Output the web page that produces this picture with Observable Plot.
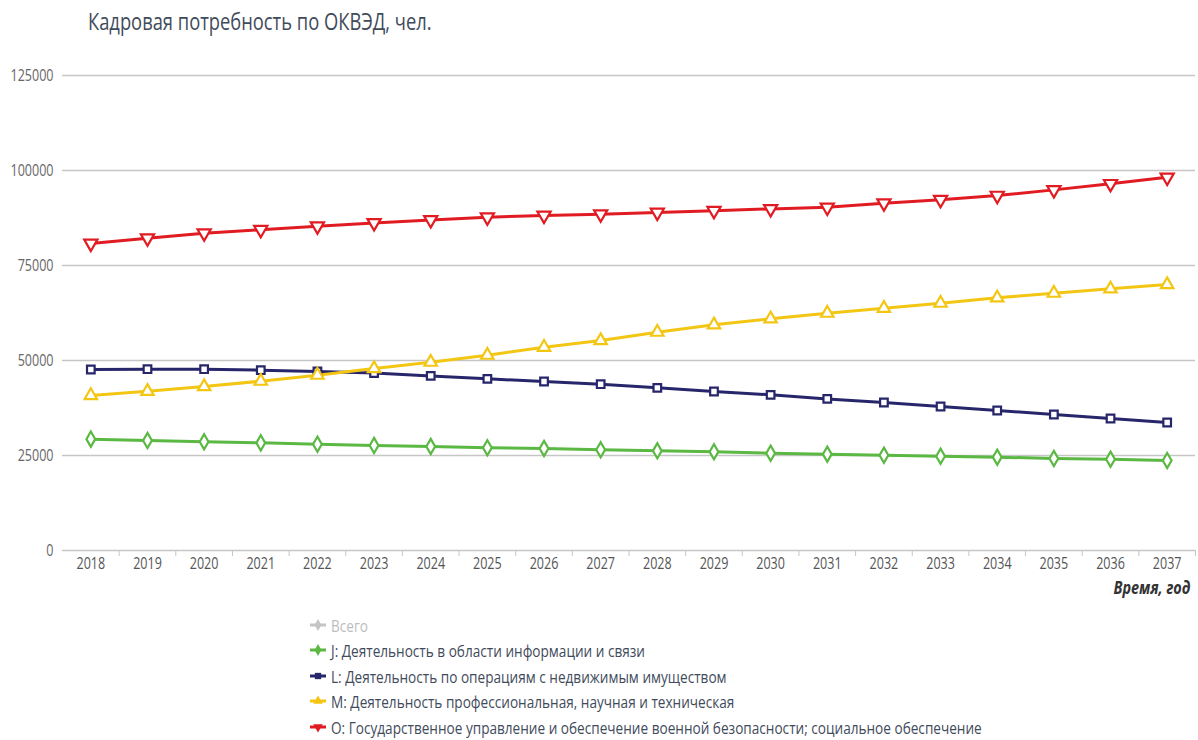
<!DOCTYPE html>
<html><head><meta charset="utf-8">
<script src="https://cdn.jsdelivr.net/npm/d3@7"></script>
<script src="https://cdn.jsdelivr.net/npm/@observablehq/plot@0.6"></script>
<style>
body{margin:0;background:#fff;font-family:"Open Sans",sans-serif;}
#wrap{position:relative;width:1198px;}
#title{height:60px;position:relative}
#title span{position:absolute;left:88px;top:5px;font-size:23.5px;color:#3f4b5b;transform:scaleX(0.78);transform-origin:0 0;white-space:nowrap}
#legend{position:relative;height:130px}
.item{position:absolute;left:309px;height:24px;white-space:nowrap;display:flex;align-items:center;}
.item svg{flex:none}
.item span{font-size:17px;color:#3f4b5b;display:inline-block;transform:scaleX(0.8);transform-origin:0 50%;margin-left:4px}
</style></head><body>
<div id="wrap">
<div id="title"><span>Кадровая потребность по ОКВЭД, чел.</span></div>
<div id="chart"></div>
<div id="legend"></div>
</div>
<script>
const years = [2018,2019,2020,2021,2022,2023,2024,2025,2026,2027,2028,2029,2030,2031,2032,2033,2034,2035,2036,2037];
const seriesJ = [29300,28950,28600,28330,27980,27630,27370,27020,26840,26500,26230,25970,25610,25350,25080,24820,24560,24210,24030,23680];
const seriesL = [47630,47720,47720,47450,47100,46700,45950,45170,44470,43770,42800,41840,40960,39900,38950,37900,36840,35790,34740,33680];
const seriesM = [40800,41900,43150,44560,46140,47900,49560,51400,53500,55260,57450,59400,60970,62450,63760,65080,66490,67720,68860,70000];
const seriesO = [80800,82200,83500,84400,85350,86200,87000,87700,88150,88500,88950,89400,89900,90300,91400,92300,93400,94900,96500,98200];
const yTicks = [0,25000,50000,75000,100000,125000];
const xLabel = "Время, год";
const legendNames = ["Всего","J: Деятельность в области информации и связи","L: Деятельность по операциям с недвижимым имуществом","M: Деятельность профессиональная, научная и техническая","O: Государственное управление и обеспечение военной безопасности; социальное обеспечение"];

const series = [
  {key:"J", values:seriesJ, color:"#5ab843", symbol:"diamond", r:4.6, rotate:0},
  {key:"L", values:seriesL, color:"#27266b", symbol:"square", r:4.3, rotate:0},
  {key:"M", values:seriesM, color:"#f3c614", symbol:"triangle", r:4.6, rotate:0},
  {key:"O", values:seriesO, color:"#e11b22", symbol:"triangle", r:4.9, rotate:180}
];
const sep = years.map(y => y + 0.5);

const marks = [
  Plot.ruleY(yTicks, {stroke:"#c6c6c6", strokeWidth:1.3}),
  Plot.axisY(yTicks, {tickSize:0, tickPadding:9, tickFormat:d3.format("d"), fill:"#666", label:null, fontSize:16.5, className:"sq"}),
  Plot.axisX(years, {tickSize:0, tickPadding:7, tickFormat:d3.format("d"), fill:"#555", label:null, fontSize:16.5, className:"sq"}),
  Plot.axisX(sep, {tickSize:6, tickFormat:() => "", stroke:"#c6c6c6", label:null}),
  Plot.text([xLabel], {frameAnchor:"bottom-right", dy:43, dx:-5, text:d => d, textAnchor:"end", fontWeight:"bold", fontStyle:"italic", fill:"#333", fontSize:17, className:"sqb"})
];
for (const s of series) {
  const data = years.map((y, i) => ({year:y, value:s.values[i]}));
  marks.push(Plot.line(data, {x:"year", y:"value", stroke:s.color, strokeWidth:3}));
}
for (const s of series) {
  const data = years.map((y, i) => ({year:y, value:s.values[i]}));
  marks.push(Plot.dot(data, {x:"year", y:"value", symbol:s.symbol, r:s.r, rotate:s.rotate, fill:"white", stroke:s.color, strokeWidth:2.2}));
}

const chart = Plot.plot({
  width:1198, height:550, marginTop:15, marginBottom:60, marginLeft:62, marginRight:3,
  style:{fontFamily:"Open Sans", fontSize:"16px", background:"white", overflow:"visible"},
  x:{domain:[2017.5,2037.5]},
  y:{domain:[0,125000]},
  marks
});
document.getElementById("chart").appendChild(chart);
// horizontally condense axis text, like the reference
chart.querySelectorAll(".sq text").forEach(t => {
  if (!t.textContent) return;
  const w = t.getComputedTextLength();
  if (w > 0) { t.setAttribute("textLength", (w * 0.76).toFixed(2)); t.setAttribute("lengthAdjust", "spacingAndGlyphs"); }
});
// condense the axis title with a scale about its anchor
chart.querySelectorAll(".sqb text").forEach(t => {
  const tr = t.getAttribute("transform") || "";
  t.setAttribute("transform", tr + " scale(0.85,1)");
});

// legend
const legColors = ["#c4c4c4", "#5ab843", "#27266b", "#f3c614", "#e11b22"];
const legSyms = [d3.symbolDiamond, d3.symbolDiamond, d3.symbolSquare, d3.symbolTriangle, d3.symbolTriangle];
const legRot = [0,0,0,0,180];
const tops = [3,28,54,79,105];
const leg = document.getElementById("legend");
legendNames.forEach((name, i) => {
  const div = document.createElement("div");
  div.className = "item";
  div.style.top = tops[i] + "px";
  const path = d3.symbol(legSyms[i], 40)();
  div.innerHTML = `<svg width="18" height="14"><line x1="1" x2="17" y1="7" y2="7" stroke="${legColors[i]}" stroke-width="3"/><path d="${path}" transform="translate(9,7) rotate(${legRot[i]})" fill="${legColors[i]}"/></svg>`;
  const sp = document.createElement("span");
  sp.textContent = name;
  if (i === 0) sp.style.color = "#bdbdbd";
  div.appendChild(sp);
  leg.appendChild(div);
});
</script>
</body></html>
